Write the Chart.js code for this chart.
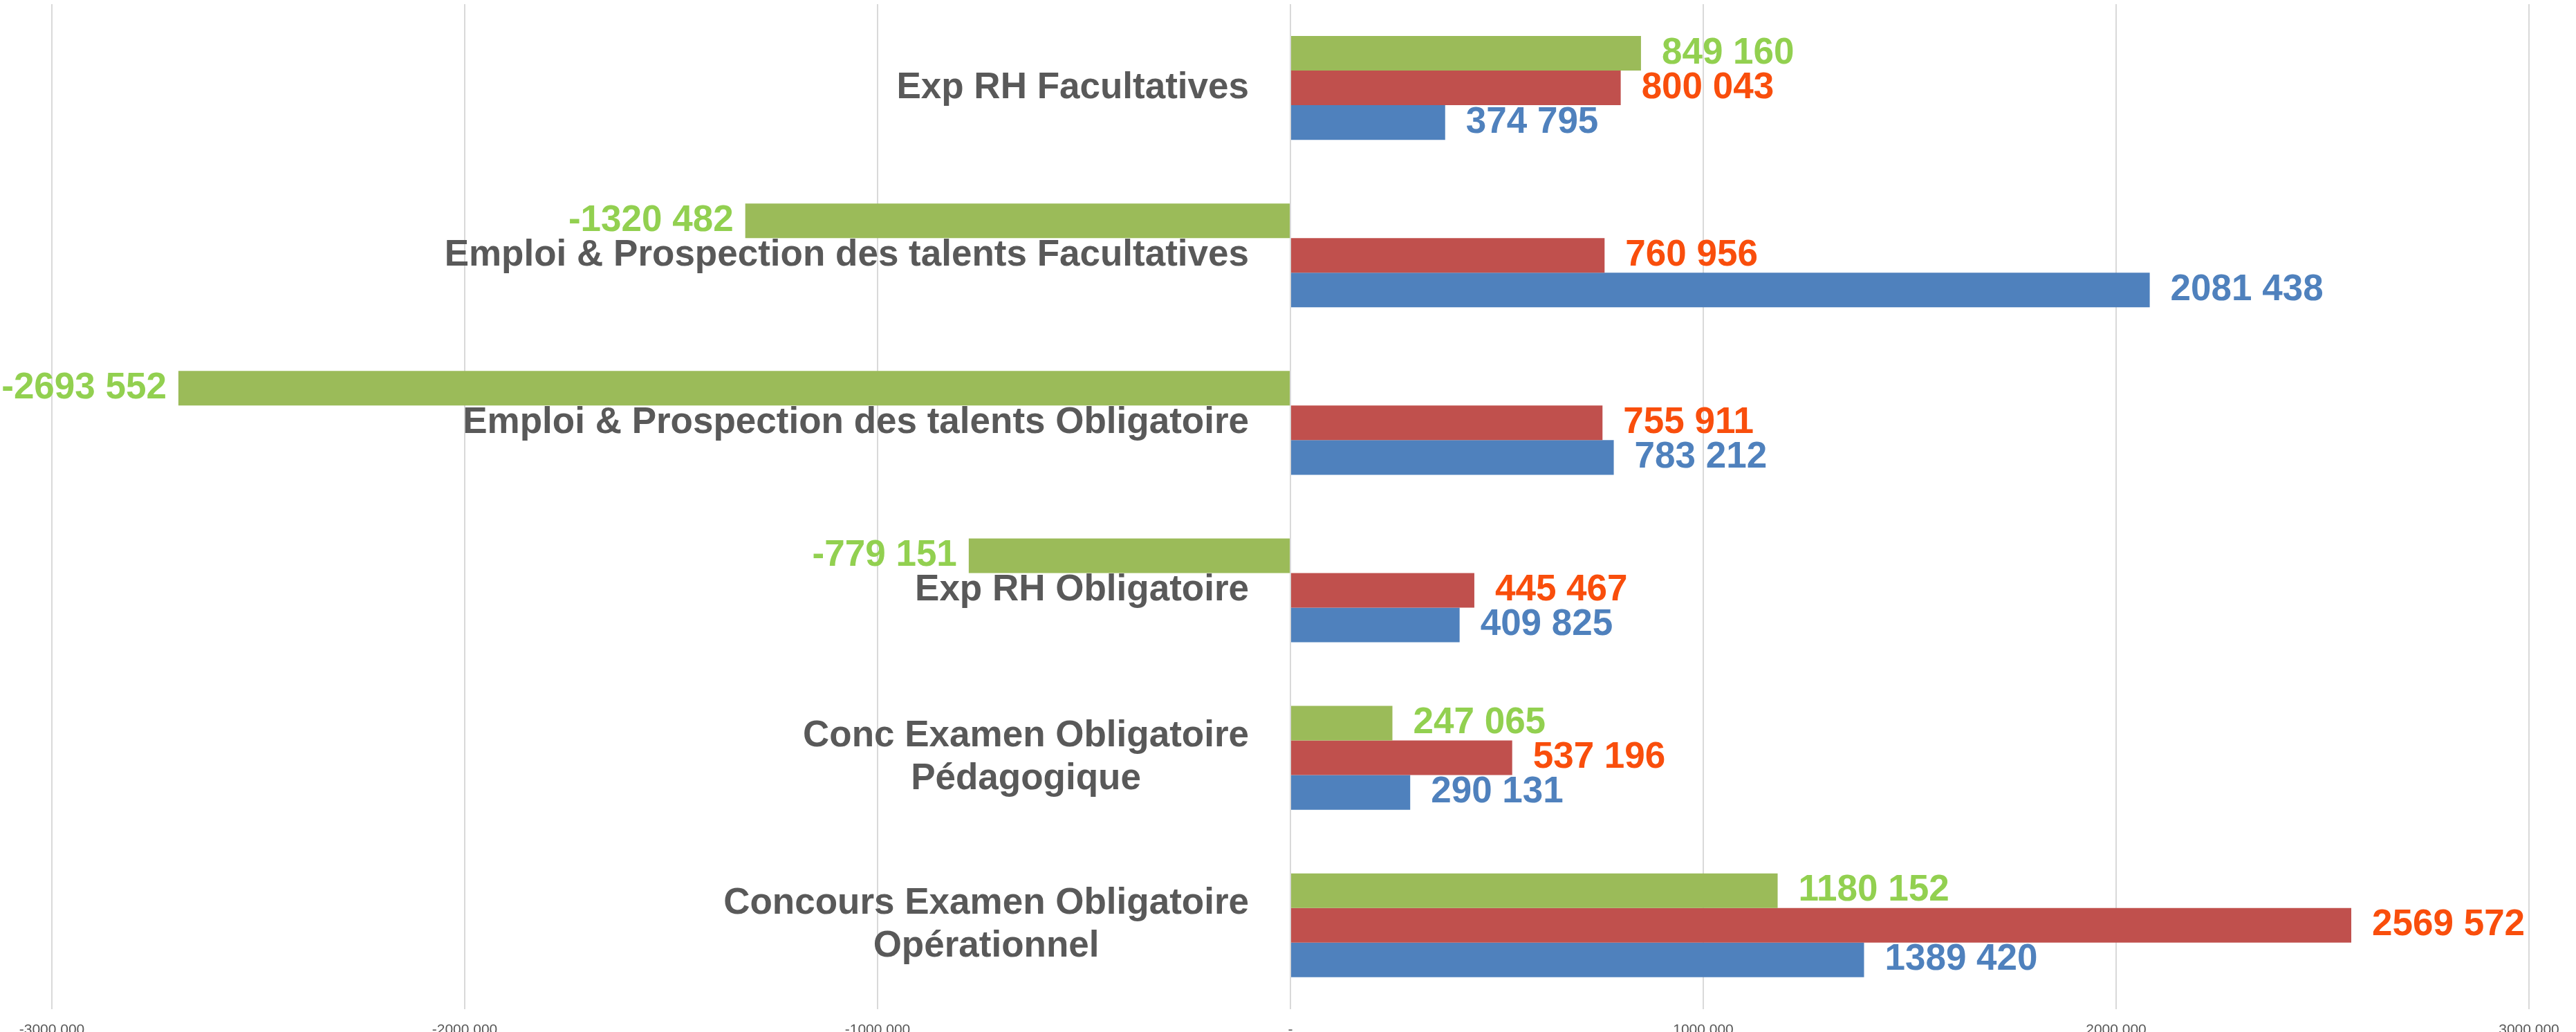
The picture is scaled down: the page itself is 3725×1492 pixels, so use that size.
<!DOCTYPE html>
<html>
<head>
<meta charset="utf-8">
<script src="https://cdn.jsdelivr.net/npm/chart.js@4"></script>
<style>
  html, body { margin: 0; padding: 0; background: #fff; overflow: hidden; }
  #wrap { width: 3725px; height: 1520px; position: relative; }
</style>
</head>
<body>
<div id="wrap"><canvas id="myChart"></canvas></div>
<script>
'use strict';
const categories = [
  ['Exp RH Facultatives'],
  ['Emploi & Prospection des talents Facultatives'],
  ['Emploi & Prospection des talents Obligatoire'],
  ['Exp RH Obligatoire'],
  ['Conc Examen Obligatoire', 'Pédagogique'],
  ['Concours Examen Obligatoire', 'Opérationnel'],
];
const greenValues = [849160, -1320482, -2693552, -779151, 247065, 1180152];
const redValues = [800043, 760956, 755911, 445467, 537196, 2569572];
const blueValues = [374795, 2081438, 783212, 409825, 290131, 1389420];
const tickLabels = ['-3000 000', '-2000 000', '-1000 000', '-', '1000 000', '2000 000', '3000 000'];

const labelColors = ['#92D050', '#F94E0C', '#4F81BD'];
const FONT = "'Liberation Sans', Arial, sans-serif";

function formatValue(v) {
  const abs = Math.abs(v);
  const head = Math.floor(abs / 1000);
  const tail = String(abs % 1000).padStart(3, '0');
  return (v < 0 ? '-' : '') + head + ' ' + tail;
}

const valueLabels = {
  id: 'valueLabels',
  afterDatasetsDraw(chart) {
    const ctx = chart.ctx;
    ctx.save();
    ctx.font = 'bold 53px ' + FONT;
    ctx.textBaseline = 'middle';
    chart.data.datasets.forEach((ds, i) => {
      const meta = chart.getDatasetMeta(i);
      ctx.fillStyle = labelColors[i];
      meta.data.forEach((bar, j) => {
        const v = ds.data[j];
        if (v >= 0) {
          ctx.textAlign = 'left';
          ctx.fillText(formatValue(v), bar.x + 30, bar.y);
        } else {
          ctx.textAlign = 'right';
          ctx.fillText(formatValue(v), bar.x - 17, bar.y);
        }
      });
    });
    ctx.restore();
  }
};

const categoryLabels = {
  id: 'categoryLabels',
  afterDatasetsDraw(chart) {
    const ctx = chart.ctx;
    const xs = chart.scales.x;
    const ys = chart.scales.y;
    const right = xs.getPixelForValue(0) - 60;
    ctx.save();
    ctx.font = 'bold 53px ' + FONT;
    ctx.fillStyle = '#595959';
    ctx.textAlign = 'center';
    ctx.textBaseline = 'middle';
    categories.forEach((lines, i) => {
      const cy = ys.getPixelForTick(i);
      let w = 0;
      lines.forEach(l => { w = Math.max(w, ctx.measureText(l).width); });
      const cx = right - w / 2;
      const lh = 62;
      const top = cy - (lines.length - 1) * lh / 2;
      lines.forEach((l, k) => ctx.fillText(l, cx, top + k * lh));
    });
    ctx.restore();
  }
};

let ctx = document.getElementById('myChart').getContext('2d');
let chart = new Chart(ctx, {
  type: 'bar',
  data: {
    labels: categories.map(c => c.join(' ')),
    datasets: [{
      label: 'green',
      backgroundColor: '#9BBB59',
      data: greenValues
    },
    {
      label: 'red',
      backgroundColor: '#C0504D',
      data: redValues
    },
    {
      label: 'blue',
      backgroundColor: '#4F81BD',
      data: blueValues
    }]
  },
  options: {
    indexAxis: 'y',
    responsive: true,
    maintainAspectRatio: false,
    animation: false,
    layout: { padding: { left: 75, right: 68, top: 6, bottom: 0 } },
    datasets: { bar: { categoryPercentage: 0.62, barPercentage: 1 } },
    plugins: { legend: { display: false }, tooltip: { enabled: false } },
    scales: {
      x: {
        min: -3000000,
        max: 3000000,
        grid: { color: '#d9d9d9', lineWidth: 2, drawTicks: false },
        border: { display: false },
        ticks: {
          stepSize: 1000000,
          autoSkip: false,
          maxRotation: 0,
          padding: 18,
          color: '#595959',
          font: { family: FONT, size: 21 },
          callback: (v, i) => tickLabels[i]
        }
      },
      y: {
        display: false
      }
    }
  },
  plugins: [valueLabels, categoryLabels]
});
</script>
</body>
</html>
